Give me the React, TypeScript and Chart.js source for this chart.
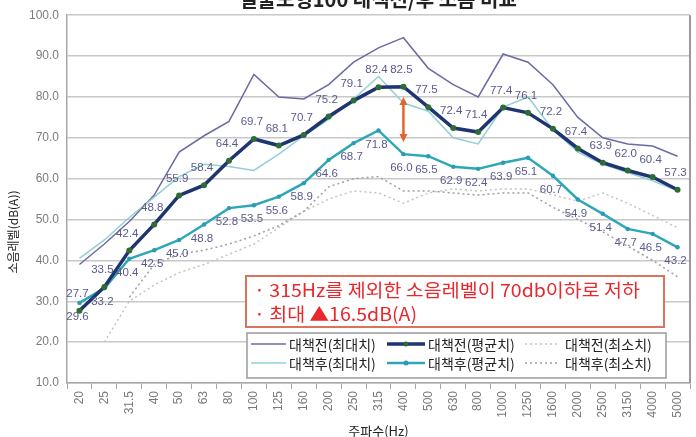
import React, { useEffect, useRef } from 'react';
import { Chart, registerables } from 'chart.js';

Chart.register(...registerables);

const categories = ['20', '25', '31.5', '40', '50', '63', '80', '100', '125', '160', '200', '250', '315', '400', '500', '630', '800', '1000', '1250', '1600', '2000', '2500', '3150', '4000', '5000'];

const beforeMax = [39, 44, 49.5, 56, 66.5, 70.5, 74, 85.5, 80, 79.5, 83, 88.5, 92, 94.5, 87, 83, 80, 90.5, 88.5, 83, 75, 70, 68.5, 68, 65.5];
const beforeAvg = [27.7, 33.5, 42.4, 48.8, 55.9, 58.4, 64.4, 69.7, 68.1, 70.7, 75.2, 79.1, 82.4, 82.5, 77.5, 72.4, 71.4, 77.4, 76.1, 72.2, 67.4, 63.9, 62.0, 60.4, 57.3];
const beforeMin = [null, 20, 30, 34, 37, 39, 41.5, 44, 48, 52, 55, 57, 56.5, 54, 56.5, 57.5, 57, 57.5, 57.5, 56, 54.5, 56.5, 54, 51, 48];
const afterMax = [40.5, 45, 50.5, 55.5, 60.5, 63.5, 63, 62, 66, 70.5, 74.5, 79.5, 85, 78.5, 76.5, 70, 68.5, 77.5, 80, 72, 66.5, 63.5, 61.5, 59.5, 57];
const afterAvg = [29.6, 33.2, 40.4, 42.5, 45.0, 48.8, 52.8, 53.5, 55.6, 58.9, 64.6, 68.7, 71.8, 66.0, 65.5, 62.9, 62.4, 63.9, 65.1, 60.7, 54.9, 51.4, 47.7, 46.5, 43.2];
const afterMin = [null, null, 31, 39, 41.5, 42.5, 44, 46, 48.5, 52, 58, 60, 60.5, 57, 57, 56.5, 56, 56.5, 56.5, 53, 50, 47, 43.5, 40, 36];

const seriesNames = ['대책전(최대치)', '대책전(평균치)', '대책전(최소치)', '대책후(최대치)', '대책후(평균치)', '대책후(최소치)'];
const titleText = '실물모형100 대책전/후 소음 비교';
const yTitle = '소음레벨(dB(A))';
const xTitle = '주파수(Hz)';
const noteLines = ['· 315Hz를 제외한 소음레벨이 70db이하로 저하', '· 최대 ▲16.5dB(A)'];
const arrowFrom = 80;
const arrowTo = 69;
const arrowCategory = '400';

const KR = '"Noto Sans CJK KR", "Noto Sans", sans-serif';

const COLORS = {
  beforeMax: '#6b6ba3',
  beforeAvg: '#1f3572',
  beforeAvgPt: '#2f6b35',
  beforeMin: '#c4c4c4',
  afterMax: '#93cfd6',
  afterAvg: '#2ea7b8',
  afterAvgPt: '#2a9bb0',
  afterMin: '#9c9ca6',
  label: '#5a5a8e',
};

export default function App() {
  const ref = useRef<HTMLCanvasElement>(null);

  useEffect(() => {
    const canvas = ref.current;
    if (!canvas) return;

    const overlay = {
      id: 'overlay',
      afterDatasetsDraw(chart: any) {
        const ctx = chart.ctx;
        const area = chart.chartArea;
        const xs = chart.scales.x;
        const ys = chart.scales.y;
        ctx.save();

        // right border
        ctx.strokeStyle = '#9a9a9a';
        ctx.lineWidth = 2;
        ctx.beginPath();
        ctx.moveTo(area.right, area.top);
        ctx.lineTo(area.right, area.bottom);
        ctx.stroke();

        // data labels
        ctx.font = '11.5px Arial, "Liberation Sans", sans-serif';
        ctx.fillStyle = COLORS.label;
        ctx.textAlign = 'center';
        ctx.textBaseline = 'middle';
        const bMeta = chart.getDatasetMeta(1);
        bMeta.data.forEach((p: any, i: number) => {
          ctx.fillText(beforeAvg[i].toFixed(1), p.x - 2, p.y - 17);
        });
        const aMeta = chart.getDatasetMeta(4);
        aMeta.data.forEach((p: any, i: number) => {
          ctx.fillText(afterAvg[i].toFixed(1), p.x - 2, p.y + 14);
        });

        // arrow
        const ax = xs.getPixelForValue(categories.indexOf(arrowCategory));
        const ay1 = ys.getPixelForValue(arrowFrom);
        const ay2 = ys.getPixelForValue(arrowTo);
        ctx.strokeStyle = '#e0642c';
        ctx.fillStyle = '#e0642c';
        ctx.lineWidth = 2.5;
        ctx.beginPath();
        ctx.moveTo(ax, ay1 + 6);
        ctx.lineTo(ax, ay2 - 6);
        ctx.stroke();
        ctx.beginPath();
        ctx.moveTo(ax, ay1);
        ctx.lineTo(ax - 4, ay1 + 8);
        ctx.lineTo(ax + 4, ay1 + 8);
        ctx.closePath();
        ctx.fill();
        ctx.beginPath();
        ctx.moveTo(ax, ay2);
        ctx.lineTo(ax - 4, ay2 - 8);
        ctx.lineTo(ax + 4, ay2 - 8);
        ctx.closePath();
        ctx.fill();

        // note box
        ctx.fillStyle = '#ffffff';
        ctx.fillRect(246, 276, 418, 51);
        ctx.strokeStyle = '#d9745e';
        ctx.lineWidth = 2;
        ctx.strokeRect(246, 276, 418, 51);
        ctx.fillStyle = '#e8282c';
        ctx.font = '18px ' + KR;
        ctx.textAlign = 'left';
        ctx.textBaseline = 'middle';
        const w0 = ctx.measureText(noteLines[0]).width;
        const sx = 386 / w0;
        ctx.save();
        ctx.translate(254, 0);
        ctx.scale(sx, 1);
        ctx.fillText(noteLines[0], 0, 290);
        ctx.fillText(noteLines[1], 0, 314);
        ctx.restore();

        // legend box
        const lx = 247, ly = 333, lw = 419, lh = 45;
        ctx.fillStyle = '#ffffff';
        ctx.fillRect(lx, ly, lw, lh);
        ctx.strokeStyle = '#9a9a9a';
        ctx.lineWidth = 1.5;
        ctx.strokeRect(lx, ly, lw, lh);
        const cols = [[251, 286, 289], [387, 425, 428], [525, 560, 565]];
        const rows = [344, 363];
        const styles = [
          { c: COLORS.beforeMax, w: 1.5, dash: [] as number[], pt: '' },
          { c: COLORS.beforeAvg, w: 3.5, dash: [] as number[], pt: COLORS.beforeAvgPt },
          { c: COLORS.beforeMin, w: 1.5, dash: [2, 3], pt: '' },
          { c: COLORS.afterMax, w: 1.5, dash: [] as number[], pt: '' },
          { c: COLORS.afterAvg, w: 2.5, dash: [] as number[], pt: COLORS.afterAvgPt },
          { c: COLORS.afterMin, w: 1.5, dash: [2, 3], pt: '' },
        ];
        ctx.font = '14px ' + KR;
        for (let i = 0; i < 6; i++) {
          const col = cols[i % 3];
          const y = rows[Math.floor(i / 3)];
          const s = styles[i];
          ctx.strokeStyle = s.c;
          ctx.lineWidth = s.w;
          ctx.setLineDash(s.dash);
          ctx.beginPath();
          ctx.moveTo(col[0], y);
          ctx.lineTo(col[1], y);
          ctx.stroke();
          ctx.setLineDash([]);
          if (s.pt) {
            ctx.fillStyle = s.pt;
            ctx.beginPath();
            ctx.arc((col[0] + col[1]) / 2, y, 2.5, 0, Math.PI * 2);
            ctx.fill();
          }
          ctx.fillStyle = '#222222';
          ctx.textAlign = 'left';
          ctx.fillText(seriesNames[i], col[2], y + 1, 88);
        }

        // titles
        ctx.fillStyle = '#222222';
        ctx.textAlign = 'center';
        ctx.font = '13px ' + KR;
        ctx.textBaseline = 'middle';
        ctx.fillText(xTitle, (area.left + area.right) / 2, 431);
        ctx.save();
        ctx.translate(13, 232);
        ctx.rotate(-Math.PI / 2);
        ctx.font = '12px ' + KR;
        ctx.fillText(yTitle, 0, 0);
        ctx.restore();
        ctx.font = 'bold 20px ' + KR;
        ctx.textBaseline = 'alphabetic';
        ctx.fillText(titleText, 378, 7, 330);

        ctx.restore();
      },
    };

    const chart = new Chart(canvas, {
      type: 'line',
      data: {
        labels: categories,
        datasets: [
          { label: seriesNames[0], data: beforeMax, borderColor: COLORS.beforeMax, borderWidth: 1.5, pointRadius: 0, tension: 0, order: 4 },
          { label: seriesNames[1], data: beforeAvg, borderColor: COLORS.beforeAvg, borderWidth: 3.5, pointRadius: 3, pointStyle: 'circle', pointBackgroundColor: COLORS.beforeAvgPt, pointBorderColor: COLORS.beforeAvgPt, pointBorderWidth: 0, tension: 0, order: 0 },
          { label: seriesNames[2], data: beforeMin, borderColor: COLORS.beforeMin, borderWidth: 1.5, borderDash: [2, 3], pointRadius: 0, tension: 0, order: 6 },
          { label: seriesNames[3], data: afterMax, borderColor: COLORS.afterMax, borderWidth: 1.5, pointRadius: 0, tension: 0, order: 3 },
          { label: seriesNames[4], data: afterAvg, borderColor: COLORS.afterAvg, borderWidth: 2.5, pointRadius: 2.2, pointBackgroundColor: COLORS.afterAvgPt, pointBorderColor: COLORS.afterAvgPt, pointBorderWidth: 0, tension: 0, order: 1 },
          { label: seriesNames[5], data: afterMin, borderColor: COLORS.afterMin, borderWidth: 1.5, borderDash: [2, 3], pointRadius: 0, tension: 0, order: 5 },
        ],
      },
      options: {
        responsive: false,
        animation: false,
        devicePixelRatio: 1,
        layout: { padding: { top: 15, right: 6, left: 0, bottom: 0 } },
        plugins: {
          legend: { display: false },
          tooltip: { enabled: false },
          title: { display: false },
        },
        scales: {
          x: {
            type: 'category',
            offset: true,
            grid: { display: true, drawOnChartArea: false, drawTicks: true, tickLength: 6, color: '#a8a8a8', offset: true },
            border: { color: '#a8a8a8', width: 1.5 },
            ticks: { minRotation: 90, maxRotation: 90, autoSkip: false, color: '#7a7a7a', font: { size: 12, family: 'Arial, "Liberation Sans", sans-serif' }, padding: 2 },
            afterFit(s: any) { s.height = 54; },
          },
          y: {
            min: 10,
            max: 100,
            ticks: { stepSize: 10, color: '#7c7c7c', font: { size: 12, family: 'Arial, "Liberation Sans", sans-serif' }, padding: 8, callback: (v: any) => Number(v).toFixed(1) },
            grid: { color: '#c8c8c8', lineWidth: 1.5, drawTicks: false },
            border: { color: '#a8a8a8', width: 1.5 },
            afterFit(s: any) { s.width = 67; },
          },
        },
      },
      plugins: [overlay],
    } as any);

    return () => chart.destroy();
  }, []);

  return (
    <div style={{ position: 'absolute', left: 0, top: 0, width: 696, height: 437, background: '#ffffff', overflow: 'hidden' }}>
      <canvas ref={ref} width={696} height={437} style={{ display: 'block', width: 696, height: 437 }} />
    </div>
  );
}
